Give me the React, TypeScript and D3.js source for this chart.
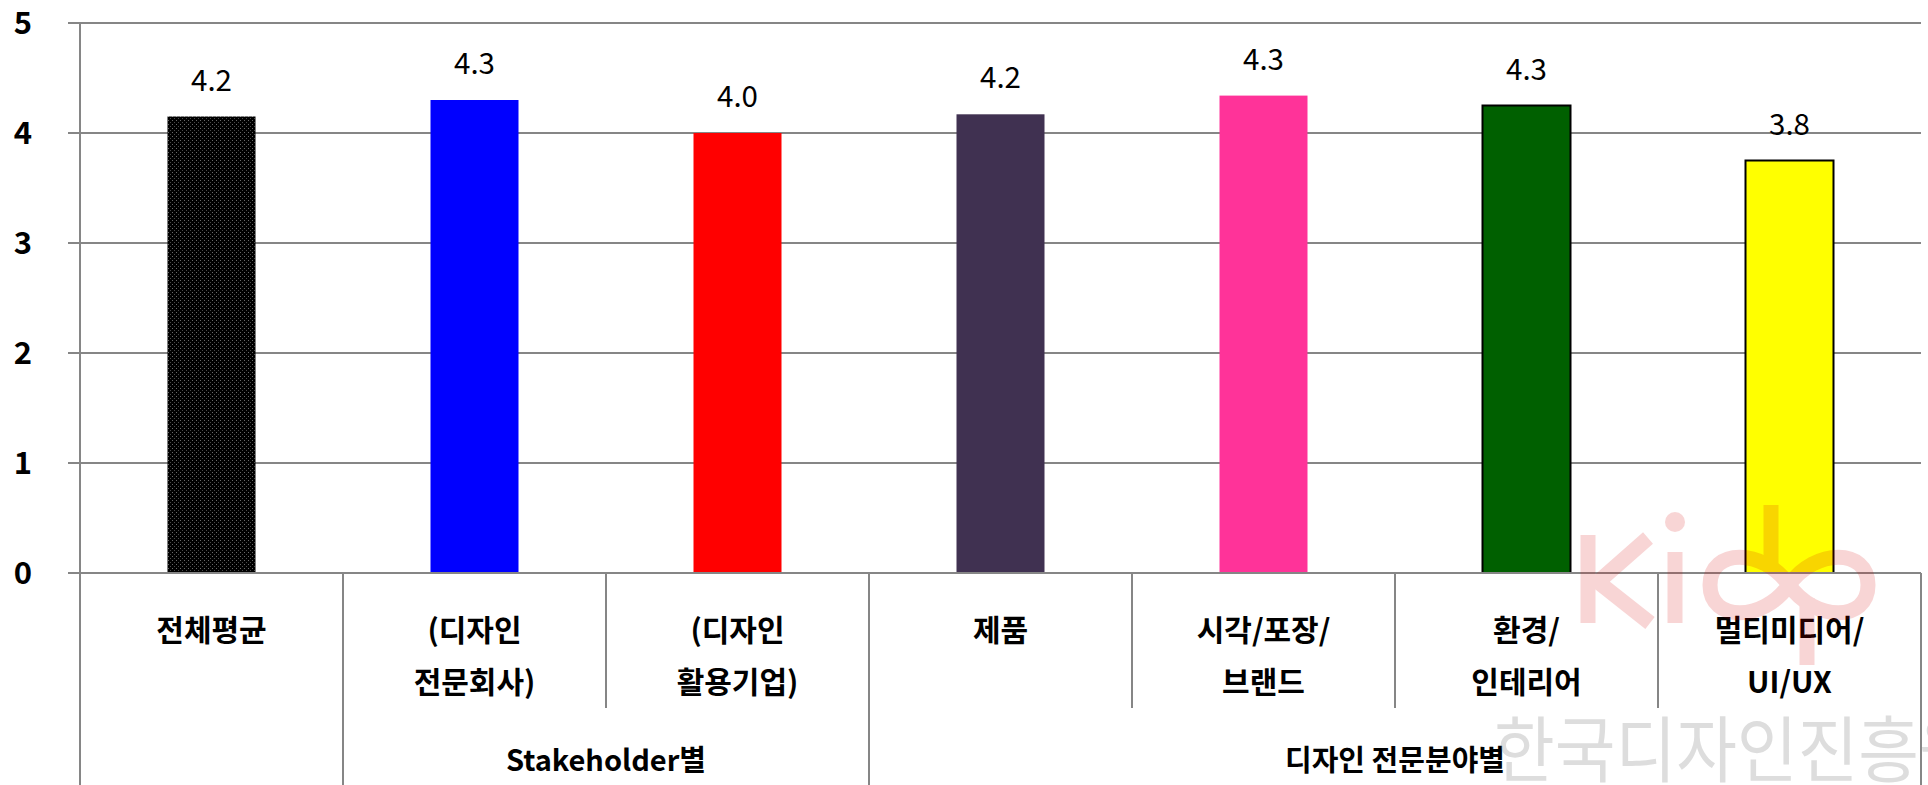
import React from "react";
import * as d3 from "d3";

const categories = ["전체평균", "(디자인 전문회사)", "(디자인 활용기업)", "제품", "시각/포장/브랜드", "환경/인테리어", "멀티미디어/UI/UX"];
const categoryLines = [
  ["전체평균"],
  ["(디자인", "전문회사)"],
  ["(디자인", "활용기업)"],
  ["제품"],
  ["시각/포장/", "브랜드"],
  ["환경/", "인테리어"],
  ["멀티미디어/", "UI/UX"],
];
const values = [4.15, 4.3, 4.0, 4.17, 4.34, 4.25, 3.75];
const barColors = ["url(#dots)", "#0000FF", "#FF0000", "#403151", "#FF3399", "#006000", "#FFFF00"];
const barStrokes = ["none", "none", "none", "none", "none", "#000", "#000"];
const groupLabels = ["", "Stakeholder별", "디자인 전문분야별"];
const groupSizes = [1, 2, 4];
const yTicks = [0, 1, 2, 3, 4, 5];

const W = 1928;
const H = 785;
const FONT = "'Noto Sans CJK KR', 'Noto Sans', sans-serif";
const GRID = "#868686";

export default function App() {
  const x = d3.scaleBand<string>().domain(categories).range([80, 1921]).paddingInner(0).paddingOuter(0);
  const y = d3.scaleLinear().domain([0, 5]).range([573, 23]);
  const barW = 88;
  const step = x.step();

  const boundaries: number[] = [0];
  groupSizes.reduce((acc, s) => {
    boundaries.push(acc + s);
    return acc + s;
  }, 0);
  const xAt = (i: number) => x.range()[0] + step * i;

  const fmt = d3.format(".1f");

  return (
    <svg width={W} height={H} style={{ position: "absolute", left: 0, top: 0, background: "#fff" }} fontFamily={FONT}>
      <defs>
        <pattern id="dots" width={4} height={4} patternUnits="userSpaceOnUse">
          <rect width={4} height={4} fill="#000" />
          <rect x={0} y={0} width={1} height={1} fill="#6a6a6a" />
          <rect x={2} y={2} width={1} height={1} fill="#4a4a4a" />
        </pattern>
      </defs>
      <rect width={W} height={H} fill="#fff" />

      {yTicks.map((t) => (
        <line key={"g" + t} x1={68} x2={1921} y1={y(t)} y2={y(t)} stroke={GRID} strokeWidth={2} />
      ))}

      {yTicks.map((t) => (
        <text key={"yl" + t} x={23} y={y(t)} dy="0.36em" textAnchor="middle" fontSize={31} fontWeight={700} fill="#000">
          {t}
        </text>
      ))}

      {categories.map((c, i) => {
        const cx = (x(c) as number) + step / 2;
        return (
          <rect
            key={"b" + i}
            x={cx - barW / 2}
            y={y(values[i])}
            width={barW}
            height={y(0) - y(values[i])}
            fill={barColors[i]}
            stroke={barStrokes[i]}
            strokeWidth={2}
          />
        );
      })}

      {categories.map((c, i) => {
        const cx = (x(c) as number) + step / 2;
        return (
          <text key={"v" + i} x={cx} y={y(values[i]) - 26} textAnchor="middle" fontSize={29.5} fill="#000">
            {fmt(values[i])}
          </text>
        );
      })}

      <line x1={80} x2={80} y1={y(5)} y2={H} stroke={GRID} strokeWidth={2} />
      <line x1={68} x2={1921} y1={y(0)} y2={y(0)} stroke={GRID} strokeWidth={2} />

      {d3.range(1, categories.length + 1).map((k) => {
        const isGroup = boundaries.includes(k);
        return (
          <line
            key={"s" + k}
            x1={xAt(k)}
            x2={xAt(k)}
            y1={y(0)}
            y2={isGroup ? H : 708}
            stroke={GRID}
            strokeWidth={2}
          />
        );
      })}

      {categories.map((c, i) => {
        const cx = (x(c) as number) + step / 2;
        return categoryLines[i].map((ln, j) => (
          <text key={"c" + i + "_" + j} x={cx} y={630 + j * 52} dy="0.36em" textAnchor="middle" fontSize={30} fontWeight={700} fill="#000">
            {ln}
          </text>
        ));
      })}

      {groupLabels.map((g, gi) => {
        const cx = (xAt(boundaries[gi]) + xAt(boundaries[gi + 1])) / 2;
        return (
          <text key={"gl" + gi} x={cx} y={761} dy="0.36em" textAnchor="middle" fontSize={29} fontWeight={700} fill="#000">
            {g}
          </text>
        );
      })}

      <g opacity={0.16} stroke="rgb(215,0,0)" fill="none" strokeWidth={15}>
        <line x1={1588} x2={1588} y1={535} y2={623} />
        <path d="M1648,538 L1598,582 L1650,623" />
        <line x1={1675} x2={1675} y1={552} y2={623} />
        <circle cx={1675} cy={522} r={10} fill="rgb(215,0,0)" stroke="none" />
        <line x1={1771} x2={1771} y1={505} y2={572} />
        <line x1={1807} x2={1807} y1={598} y2={665} />
        <path d="M1789,585 C1815,548 1868,548 1868,585 C1868,622 1815,622 1789,585 C1763,548 1710,548 1710,585 C1710,622 1763,622 1789,585 Z" />
      </g>
      <g transform="translate(1494,776) scale(1,1.08)">
        <text x={0} y={0} fontSize={66} fontWeight={400} letterSpacing={0} fill="rgb(128,128,128)" fillOpacity={0.27}>
          한국디자인진흥원
        </text>
      </g>
    </svg>
  );
}
